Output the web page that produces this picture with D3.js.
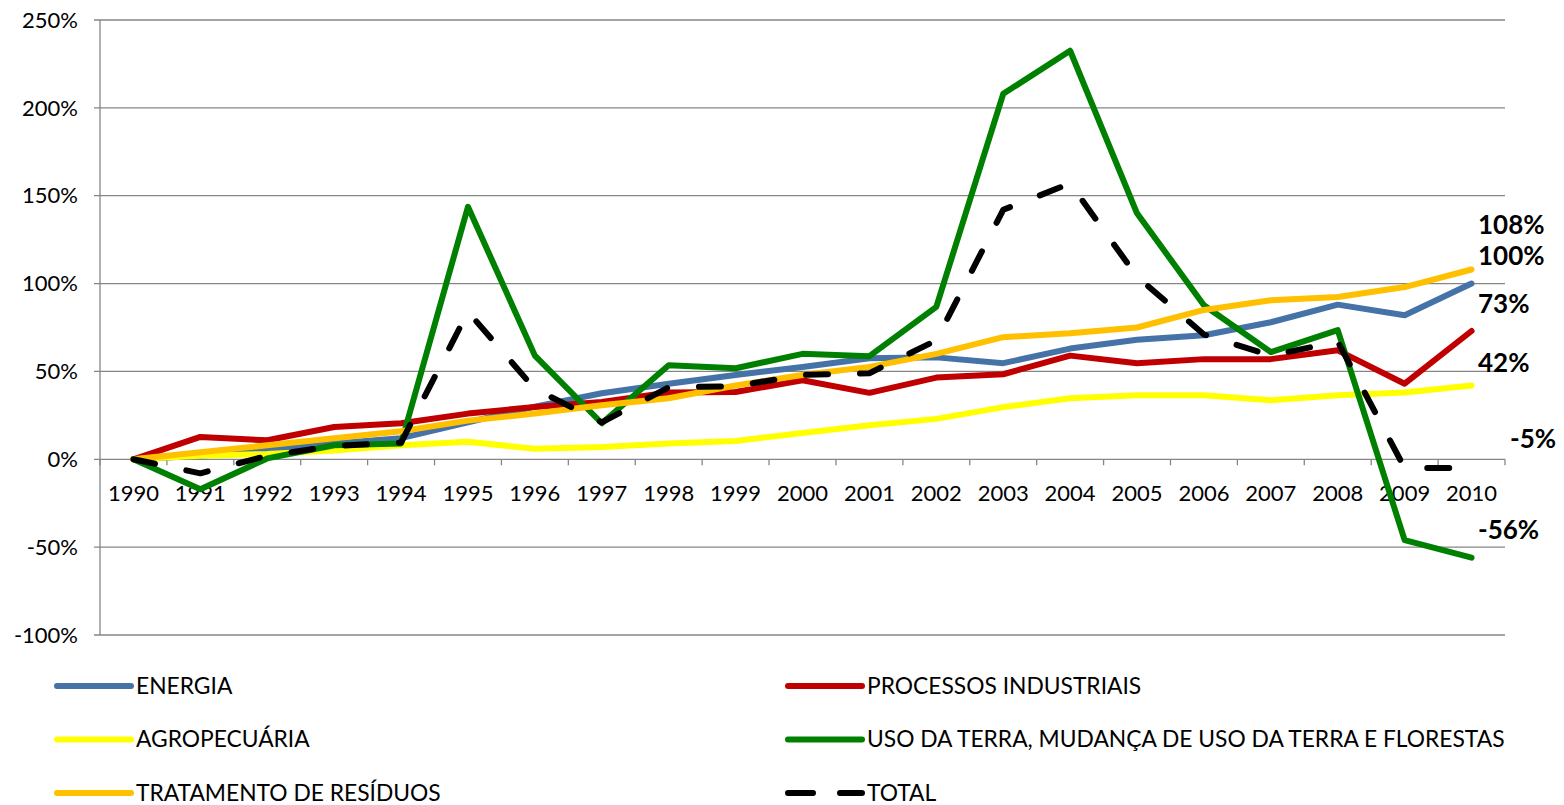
<!DOCTYPE html>
<html>
<head>
<meta charset="utf-8">
<script src="https://cdn.jsdelivr.net/npm/d3@7"></script>
<style>
  body { margin: 0; background: #fff; }
  svg { display: block; font-family: Lato, "Open Sans", sans-serif; }
</style>
</head>
<body>
<svg width="1564" height="805"></svg>
<script>
// values (% change vs 1990)
const years = d3.range(1990, 2011).map(String)
const energia    = [0, 2, 5, 9, 12, 21, 30, 37.6, 43, 48, 52.5, 57.5, 58, 54.7, 63, 68, 70.6, 78, 88, 82, 100]
const processos  = [0, 12.7, 10.8, 18.4, 20.5, 26, 29.8, 32.6, 38, 38.3, 45, 37.8, 46.5, 48.4, 59, 54.7, 57, 57, 62, 43, 73]
const agro       = [0, 2, 3, 5, 8, 10, 6, 7, 9, 10.4, 15, 19.4, 23, 29.7, 34.7, 36.5, 36.5, 33.6, 36.4, 38, 42]
const usoTerra   = [0, -17, 0.5, 8, 9, 143.7, 59, 20.5, 53.5, 51.8, 60, 58.7, 86.7, 208, 232.5, 140, 87.7, 61, 73.5, -46, -56]
const tratamento = [0, 4, 8, 12, 16, 22, 26, 30.7, 34.7, 42, 48, 52.6, 60, 69.5, 71.7, 75, 85, 90.5, 92.4, 98, 108]
const total      = [0, -8, 2, 7.6, 9.5, 84, 40, 21, 41, 41.6, 48, 49, 67.7, 142, 157, 104, 71, 59, 67, -5, -5]
const yTicks = [-100, -50, 0, 50, 100, 150, 200, 250]
const endLabels = ["108%", "100%", "73%", "42%", "-5%", "-56%"]

const series = [
    {name: "ENERGIA", values: energia, color: "#4572A7"},
    {name: "PROCESSOS INDUSTRIAIS", values: processos, color: "#C00000"},
    {name: "AGROPECUÁRIA", values: agro, color: "#FFFF00"},
    {name: "USO DA TERRA, MUDANÇA DE USO DA TERRA E FLORESTAS", values: usoTerra, color: "#008000"},
    {name: "TRATAMENTO DE RESÍDUOS", values: tratamento, color: "#FFC000"},
    {name: "TOTAL", values: total, color: "#000", dash: "22,32"}
]

const svg = d3.select("svg")
const plotL = 100, plotR = 1505, plotT = 20, plotB = 635

const x = d3.scaleBand().domain(years).range([plotL, plotR])
const y = d3.scaleLinear().domain([-100, 250]).range([plotB, plotT])

// gridlines
svg.append("g")
    .selectAll("line")
    .data(yTicks)
    .enter()
    .append("line")
    .attr("x1", plotL - 6).attr("x2", plotR)
    .attr("y1", d => y(d)).attr("y2", d => y(d))
    .attr("stroke", "#868686")
    .attr("stroke-width", 1.3)

svg.append("line")
    .attr("x1", plotL).attr("x2", plotL)
    .attr("y1", plotT).attr("y2", plotB)
    .attr("stroke", "#868686")
    .attr("stroke-width", 1.3)

svg.append("g")
    .selectAll("text")
    .data(yTicks)
    .enter()
    .append("text")
    .attr("x", 78)
    .attr("y", d => y(d))
    .attr("dy", "0.35em")
    .attr("text-anchor", "end")
    .attr("font-size", 22)
    .attr("fill", "#000")
    .text(d => d + "%")

// category axis on the zero line
const xAxis = svg.append("g")
    .attr("transform", `translate(0,${y(0)})`)
xAxis.selectAll("line")
    .data(d3.range(years.length + 1))
    .enter()
    .append("line")
    .attr("x1", i => plotL + i * x.step()).attr("x2", i => plotL + i * x.step())
    .attr("y1", 0).attr("y2", 6)
    .attr("stroke", "#868686")
    .attr("stroke-width", 1.3)
xAxis.selectAll("text")
    .data(years)
    .enter()
    .append("text")
    .attr("x", d => x(d) + x.bandwidth() / 2)
    .attr("y", 34)
    .attr("dy", "0.35em")
    .attr("text-anchor", "middle")
    .attr("font-size", 22)
    .text(d => d)

const line = d3.line()
    .x((d, i) => x(years[i]) + x.bandwidth() / 2)
    .y(d => y(d))

svg.append("g")
    .selectAll("path")
    .data(series)
    .enter()
    .append("path")
    .attr("d", d => line(d.values))
    .attr("fill", "none")
    .attr("stroke", d => d.color)
    .attr("stroke-width", 6)
    .attr("stroke-linejoin", "round")
    .attr("stroke-linecap", "round")
    .attr("stroke-dasharray", d => d.dash || null)

// end labels, ordered like the series they belong to
const labelSeries = [tratamento, energia, processos, agro, total, usoTerra]
const labelShift = [-36, -19, -18, -13, -20, -19]
const labelX = [1478, 1478, 1478, 1478, 1510, 1478]
svg.append("g")
    .selectAll("text")
    .data(endLabels)
    .enter()
    .append("text")
    .attr("x", (d, i) => labelX[i])
    .attr("y", (d, i) => y(labelSeries[i][years.length - 1]) + labelShift[i])
    .attr("font-size", 26)
    .attr("font-weight", "bold")
    .text(d => d)

// legend
const leg = svg.append("g")
    .selectAll("g")
    .data(series)
    .enter()
    .append("g")
    .attr("transform", (d, i) => `translate(${i % 2 ? 788 : 57},${686 + Math.floor(i / 2) * 53.5})`)

leg.append("line")
    .attr("x1", 0).attr("x2", 74)
    .attr("stroke", d => d.color)
    .attr("stroke-width", 6)
    .attr("stroke-linecap", "round")
    .attr("stroke-dasharray", d => d.dash ? "25,27" : null)

leg.append("text")
    .attr("x", 79)
    .attr("dy", "0.35em")
    .attr("font-size", 22.8)
    .text(d => d.name)
</script>
</body>
</html>
